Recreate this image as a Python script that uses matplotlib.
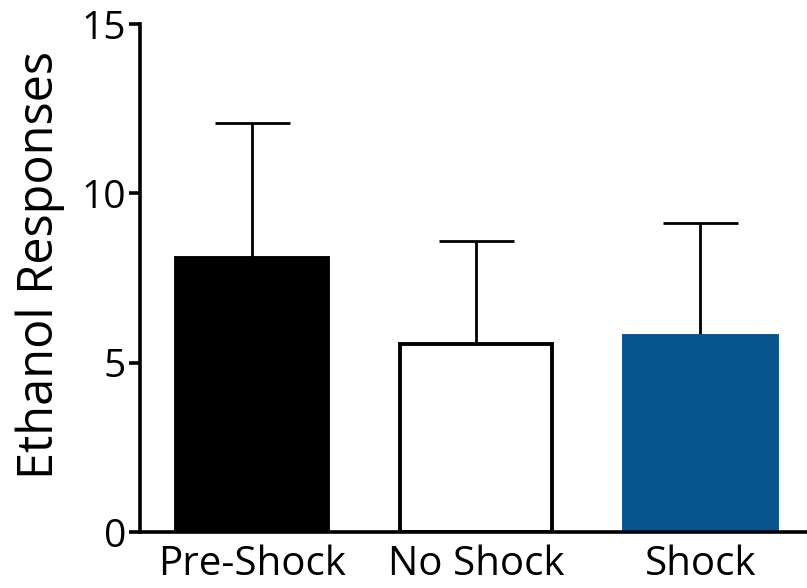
import matplotlib
matplotlib.use('Agg')
import matplotlib.pyplot as plt
import numpy as np

plt.rcParams['font.family'] = ['Open Sans', 'DejaVu Sans']

groups = ['Pre-Shock', 'No Shock', 'Shock']
means = [8.1, 5.55, 5.8]
sem = [3.98, 3.05, 3.32]
face_colors = ['#000000', '#ffffff', '#07548f']
edge_colors = ['#000000', '#000000', '#07548f']

fig = plt.figure(figsize=(8.07, 5.88), dpi=100)
ax = fig.add_axes([0.1735, 0.0952, 0.8265, 0.8638])

x = np.arange(len(groups))
ax.bar(x, means, width=0.68, color=face_colors, edgecolor=edge_colors, linewidth=2.8,
       yerr=[np.zeros(len(sem)), sem], zorder=2,
       error_kw=dict(ecolor='black', elinewidth=2.0, capsize=27, capthick=2.0, zorder=1))

ax.set_xlim(-0.5, 2.476)
ax.set_ylim(0, 15)
ax.set_yticks([0, 5, 10, 15])
ax.set_xticks(x)
ax.set_xticklabels(groups)
ax.set_ylabel('Ethanol Responses', fontsize=35)
ax.yaxis.set_label_coords(-0.112, 0.525)

for s in ['top', 'right']:
    ax.spines[s].set_visible(False)
for s in ['left', 'bottom']:
    ax.spines[s].set_linewidth(2.6)

ax.tick_params(axis='y', labelsize=28, length=8, width=2.6, pad=2)
ax.tick_params(axis='x', labelsize=29, length=0, pad=9)

fig.savefig('out.png', dpi=100)
